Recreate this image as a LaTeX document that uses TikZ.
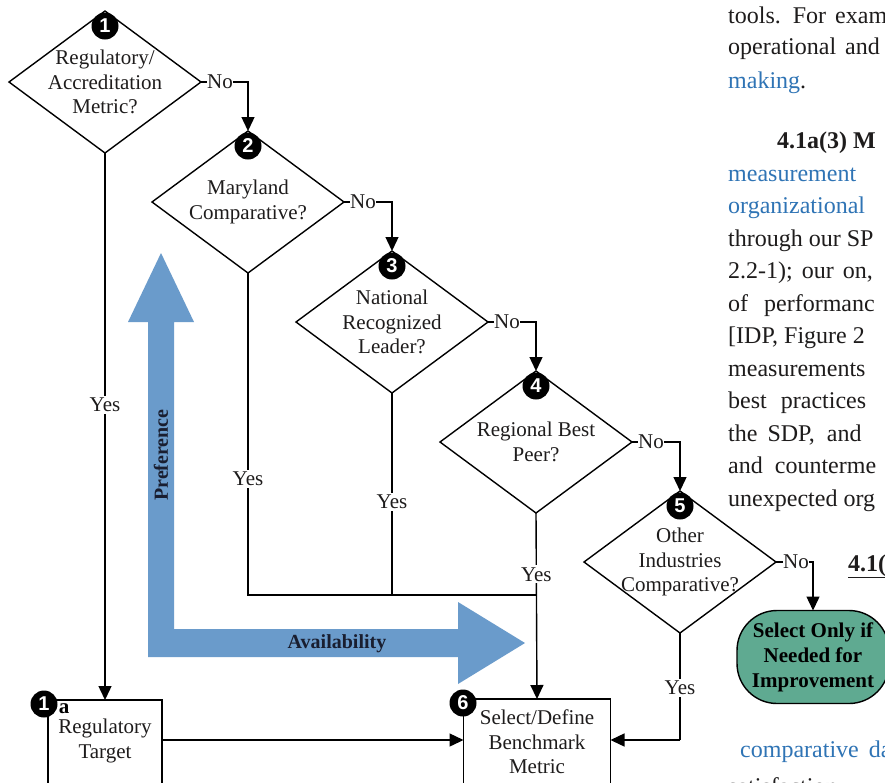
\documentclass[tikz,border=0pt]{standalone}
\usepackage{fontspec}
\setmainfont{Liberation Serif}
\newfontfamily\numfont{Liberation Sans}
\usetikzlibrary{shapes.geometric,arrows.meta}
\definecolor{ink}{RGB}{30,28,28}
\definecolor{link}{RGB}{47,116,181}
\definecolor{axisblue}{RGB}{106,155,203}
\definecolor{axisink}{RGB}{25,30,48}
\definecolor{termgreen}{RGB}{95,170,145}
\begin{document}
\begin{tikzpicture}[x=1pt,y=-1pt,
  line/.style={draw=black,line width=1.4pt},
  arr/.style={line,-{Triangle[width=13pt,length=14pt]}},
  decision/.style={diamond,draw=black,line width=1.4pt,minimum width=192pt,
    minimum height=142pt,inner sep=0pt,outer sep=0pt},
  qtext/.style={align=center,font=\fontsize{21}{24.5}\selectfont,text=ink,inner sep=0pt},
  numdot/.style={circle,fill=black,minimum size=27pt,inner sep=0pt,text=white,
    font=\numfont\bfseries\fontsize{20}{20}\selectfont},
  nolabel/.style={font=\fontsize{21}{24}\selectfont,text=ink,inner sep=0pt},
  yeslabel/.style={fill=white,font=\fontsize{21}{24}\selectfont,text=ink,inner sep=2pt},
  procbox/.style={draw=black,line width=1.4pt,minimum width=#1,minimum height=110pt,
    inner sep=0pt,outer sep=0pt,anchor=north},
  terminal/.style={draw=black,line width=1.4pt,fill=termgreen,rounded corners=40pt,
    minimum width=152pt,minimum height=93pt,inner sep=0pt,outer sep=0pt,align=center,
    font=\bfseries\fontsize{21}{25}\selectfont,text=black},
  axislabel/.style={font=\bfseries\fontsize{20}{20}\selectfont,text=axisink,inner sep=0pt},
  col/.style={anchor=base west,font=\fontsize{24}{29}\selectfont,text=ink,inner sep=0pt},
]
\useasboundingbox (0,0) rectangle (885,782);
\clip (0,0) rectangle (885,782);
\fill[white] (0,0) rectangle (885,782);

% preference / availability axes
\fill[axisblue] (148,657) -- (148,322) -- (128,322) -- (161,253) -- (194,322)
  -- (174,322) -- (174,629) -- (458,629) -- (458,602) -- (525,643) -- (458,684)
  -- (458,657) -- cycle;
\node[axislabel,rotate=90] (pref) at (161,455) {Preference};
\node[axislabel] (avail) at (337,644) {Availability};

% decisions
\node[decision] (d1) at (105,82) {};
\node[decision] (d2) at (248,202) {};
\node[decision] (d3) at (392,322) {};
\node[decision] (d4) at (536,442) {};
\node[decision] (d5) at (680,562) {};
\node[qtext] (q1) at (d1) {Regulatory/\\Accreditation\\Metric?};
\node[qtext] (q2) at (d2) {Maryland\\Comparative?};
\node[qtext] (q3) at (d3) {National\\Recognized\\Leader?};
\node[qtext] (q4) at (d4) {Regional Best\\Peer?};
\node[qtext] (q5) at (d5) {Other\\Industries\\Comparative?};

% outcome boxes
\node[procbox=114pt] (b1) at (105,700) {};
\node[qtext] (t1) at (105,741) {Regulatory\\Target};
\node[procbox=147pt] (b6) at (537,699) {};
\node[qtext] (t6) at (537,742) {Select/Define\\Benchmark\\Metric};
\node[terminal] (term) at (813,657) {Select Only if\\Needed for\\Improvement};

\coordinate (lvl) at (0,740);
\coordinate (jn) at (536,595);

% "No" branches
\node[nolabel] (no1) at (220,82) {No};
\node[nolabel] (no2) at (363,202) {No};
\node[nolabel] (no3) at (507,322) {No};
\node[nolabel] (no4) at (651,442) {No};
\node[nolabel] (no5) at (796,562) {No};
\draw[line] (d1.east) -- (no1.west);
\draw[arr] (no1.east) -| (d2.north);
\draw[line] (d2.east) -- (no2.west);
\draw[arr] (no2.east) -| (d3.north);
\draw[line] (d3.east) -- (no3.west);
\draw[arr] (no3.east) -| (d4.north);
\draw[line] (d4.east) -- (no4.west);
\draw[arr] (no4.east) -| (d5.north);
\draw[line] (d5.east) -- (no5.west);
\draw[arr] (no5.east) -| (term.north);

% "Yes" branches
\draw[arr] (d1.south) -- node[yeslabel,pos=0.46] {Yes} (b1.north);
\draw[line] (d2.south) -- node[yeslabel,pos=0.64] {Yes} (d2.south |- jn) -- (jn);
\draw[line] (d3.south) -- node[yeslabel,pos=0.54] {Yes} (d3.south |- jn);
\draw[arr] (d4.south) -- node[yeslabel,pos=0.33] {Yes} (b6.north);
\draw[line] (d5.south) -- node[yeslabel,pos=0.51] {Yes} (d5.south |- lvl);
\draw[arr] (d5.south |- lvl) -- (b6.east |- lvl);
\draw[arr] (b1.east |- lvl) -- (b6.west |- lvl);

% step numbers
\node[numdot] (n1) at (105,26) {1};
\node[numdot] (n2) at (248,146) {2};
\node[numdot] (n3) at (392,266) {3};
\node[numdot] (n4) at (536,386) {4};
\node[numdot] (n5) at (680,506) {5};
\node[numdot] (n1a) at (44,704) {1};
\node[font=\bfseries\fontsize{21}{21}\selectfont,inner sep=0pt] (n1asub) at (64,709) {a};
\node[numdot] (n6) at (463,703) {6};

% neighbouring body text
\node[col] (r1) at (728,23) {tools.\hspace{12pt}For\hspace{9pt}exam};
\node[col] (r2) at (728,54) {operational\hspace{9pt}and};
\node[col] (r3) at (728,88) {\textcolor{link}{making}.};
\node[col,font=\bfseries\fontsize{24}{29}\selectfont] (r4) at (777,148) {4.1a(3) M};
\node[col,text=link] (r5) at (728,181) {measurement};
\node[col,text=link] (r6) at (728,213) {organizational};
\node[col] (r7) at (728,246) {through our SP};
\node[col] (r8) at (728,278) {2.2-1);\hspace{9pt}our\hspace{9pt}on,};
\node[col] (r9) at (728,311) {of\hspace{16pt}performanc};
\node[col] (r10) at (728,343) {[IDP, Figure 2};
\node[col] (r11) at (728,376) {measurements};
\node[col] (r12) at (728,408) {best\hspace{14pt}practices};
\node[col] (r13) at (728,441) {the\hspace{10pt}SDP,\hspace{12pt}and};
\node[col] (r14) at (728,473) {and\hspace{12pt}counterme};
\node[col] (r15) at (728,506) {unexpected org};
\node[col,font=\bfseries\fontsize{24}{29}\selectfont] (r16) at (848,571) {\underline{4.1(}};
\node[col,text=link] (r17) at (740,757) {comparative\hspace{10pt}da};
\node[col] (r18) at (728,794) {satisfaction};
\end{tikzpicture}
\end{document}
